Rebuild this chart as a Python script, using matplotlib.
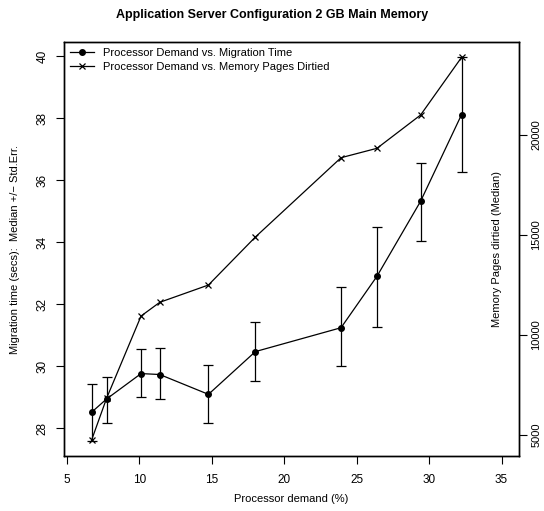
import matplotlib
matplotlib.use("Agg")
import matplotlib.pyplot as plt
from matplotlib.lines import Line2D
import numpy as np

plt.rcParams['font.family'] = ['Liberation Sans', 'DejaVu Sans']

# processor demand (%)
cpu = [6.70, 7.74, 10.12, 11.41, 14.77, 18.01, 23.92, 26.40, 29.41, 32.24]
# migration time median and error bar ends (secs)
mig_med = [28.51, 28.94, 29.76, 29.73, 29.09, 30.47, 31.24, 32.90, 35.32, 38.12]
mig_hi = [29.41, 29.65, 30.55, 30.57, 30.03, 31.41, 32.54, 34.49, 36.56, 39.97]
mig_lo = [27.60, 28.18, 28.99, 28.93, 28.15, 29.53, 30.00, 31.26, 34.04, 36.25]
# memory pages dirtied (median)
pages = [4735, 6835, 10950, 11635, 12500, 14900, 18865, 19335, 21000, 23885]

xticks = [5, 10, 15, 20, 25, 30, 35]
yticks = [28, 30, 32, 34, 36, 38, 40]
y2ticks = [5000, 10000, 15000, 20000]

fig = plt.figure(figsize=(5.44, 5.11), dpi=100)
ax = fig.add_axes([0.1176, 0.1076, 0.8364, 0.8102])
ax2 = ax.twinx()

fs = 8

ax.plot(cpu, mig_med, color='black', lw=0.9, marker='o', ms=4)
yerr = [np.array(mig_med) - np.array(mig_lo), np.array(mig_hi) - np.array(mig_med)]
ax.errorbar(cpu, mig_med, yerr=yerr, fmt='none', ecolor='black', elinewidth=0.9,
            capsize=3.5, capthick=0.9)

ax2.plot(cpu, pages, color='black', lw=0.9, marker='x', ms=5, mew=0.9)

ax.set_xlim(4.8, 36.2)
ax.set_ylim(27.1, 40.46)
ax2.set_ylim(3950, 24650)

ax.set_xticks(xticks)
ax.set_yticks(yticks)
ax2.set_yticks(y2ticks)
ax.set_xticklabels([str(v) for v in xticks], fontsize=8.5)
ax.set_yticklabels([str(v) for v in yticks], fontsize=8.5, rotation=90, va='center')
ax2.set_yticklabels([str(v) for v in y2ticks], fontsize=8, rotation=90, va='center')

ax.tick_params(direction='out', length=6, width=0.8, pad=7)
ax.tick_params(axis='y', pad=5)
ax2.tick_params(direction='out', length=6, width=0.8, pad=3)

for a in (ax, ax2):
    for s in a.spines.values():
        s.set_linewidth(1.0)

ax.set_xlabel("Processor demand (%)", fontsize=fs, labelpad=6)
ax.set_ylabel("Migration time (secs):  Median +/\u2212 Std.Err.", fontsize=fs, labelpad=12)
ax2.text(0.952, 0.5, "Memory Pages dirtied (Median)", transform=ax2.transAxes,
         rotation=90, ha='center', va='center', fontsize=fs)

fig.suptitle("Application Server Configuration 2 GB Main Memory", fontsize=9,
             fontweight='bold', y=0.983)

handles = [Line2D([], [], color='black', lw=0.9, marker='o', ms=4),
           Line2D([], [], color='black', lw=0.9, marker='x', ms=5, mew=0.9)]
ax2.legend(handles, ["Processor Demand vs. Migration Time",
                     "Processor Demand vs. Memory Pages Dirtied"],
           loc='upper left', frameon=False, fontsize=fs, handlelength=2.2,
           borderaxespad=0.2, borderpad=0.3, labelspacing=0.4, handletextpad=0.8)

fig.savefig("out.png", dpi=100)
